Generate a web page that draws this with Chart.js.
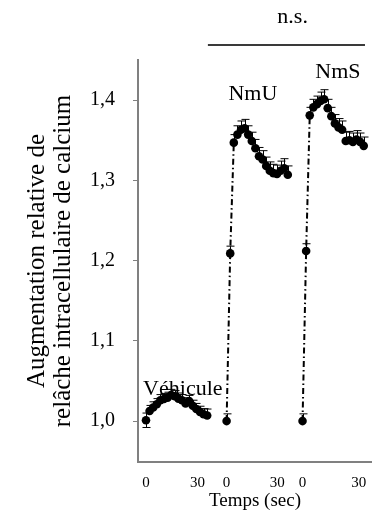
<!DOCTYPE html>
<html><head><meta charset="utf-8">
<script src="https://cdn.jsdelivr.net/npm/chart.js@4/dist/chart.umd.min.js"></script>
<style>html,body{margin:0;padding:0;background:#fff;overflow:hidden}#wrap{width:372px;height:516px;position:relative}canvas{display:block}</style>
</head><body><div id="wrap"><canvas id="c"></canvas></div>
<script>
// ---- data ----
const times = [0,2,4,6,8,10,12,14,16,18,20,22,24,26,28,30,32,34];
const seriesNames = ['Véhicule','NmU','NmS'];
const vehicule = [1.001,1.0125,1.017,1.021,1.026,1.0275,1.029,1.0325,1.031,1.028,1.026,1.022,1.025,1.019,1.015,1.0115,1.0085,1.007];
const nmu = [1.000,1.209,1.347,1.357,1.363,1.365,1.357,1.349,1.340,1.330,1.326,1.318,1.312,1.309,1.308,1.312,1.315,1.307];
const nms = [1.000,1.212,1.381,1.391,1.395,1.399,1.401,1.390,1.380,1.371,1.366,1.363,1.349,1.350,1.348,1.351,1.348,1.343];
const errUpVehicule = [0.009,0.007,0.007,0.007,0.007,0.007,0.007,0.007,0.007,0.007,0.007,0.007,0.007,0.007,0.007,0.007,0.007,0.008];
const errDownVehicule = [0.009,0,0,0,0,0,0,0,0,0,0,0,0,0,0,0,0,0];
const errUpNmu = [0.009,0.009,0.010,0.011,0.011,0.011,0.011,0.011,0.011,0.011,0.011,0.011,0.011,0.011,0.011,0.012,0.012,0.011];
const errUpNms = [0.009,0.009,0.010,0.010,0.010,0.011,0.012,0.011,0.011,0.011,0.011,0.011,0.011,0.011,0.011,0.011,0.011,0.011];
const zeros = [0,0,0,0,0,0,0,0,0,0,0,0,0,0,0,0,0,0];
const segmentOffsets = [0, 44.8, 87];
const xTickValues = [0,28.6,44.8,73,87,118.3];
const xTickLabels = ['0','30','0','30','0','30'];
const yTickValues = [1.0,1.1,1.2,1.3,1.4];

const SERIF = '"Liberation Serif","Times New Roman",serif';
const toPts = (vals, off) => vals.map((v,i)=>({x: times[i]+off, y: v}));

const datasets = [
  {label:'NmU link', data: toPts(nmu, segmentOffsets[1]).slice(0,3), showLine:true, pointRadius:0, borderColor:'#000', borderWidth:2, borderDash:[6,3,1.5,3]},
  {label:'NmS link', data: toPts(nms, segmentOffsets[2]).slice(0,3), showLine:true, pointRadius:0, borderColor:'#000', borderWidth:2, borderDash:[6,3,1.5,3]},
  {label:seriesNames[0], data: toPts(vehicule, segmentOffsets[0]), errUp: errUpVehicule, errDown: errDownVehicule},
  {label:seriesNames[1], data: toPts(nmu, segmentOffsets[1]), errUp: errUpNmu, errDown: zeros},
  {label:seriesNames[2], data: toPts(nms, segmentOffsets[2]), errUp: errUpNms, errDown: zeros}
];
datasets.slice(2).forEach(d=>{Object.assign(d,{showLine:false,pointRadius:4.3,pointHoverRadius:4.3,backgroundColor:'#000',borderColor:'#000',borderWidth:0});});

const errorBars = {
  id:'errorBars',
  beforeDatasetsDraw(chart){
    const {ctx, scales:{x,y}} = chart;
    ctx.save(); ctx.strokeStyle='#000'; ctx.lineWidth=1;
    chart.data.datasets.forEach(ds=>{
      if(!ds.errUp) return;
      ds.data.forEach((p,j)=>{
        const px = Math.round(x.getPixelForValue(p.x))+0.5;
        const t = y.getPixelForValue(p.y+ds.errUp[j]);
        const b = y.getPixelForValue(p.y-ds.errDown[j]);
        const c = y.getPixelForValue(p.y);
        ctx.beginPath();
        ctx.moveTo(px,c); ctx.lineTo(px,t);
        ctx.moveTo(px-4,t); ctx.lineTo(px+4,t);
        if(ds.errDown[j]>0){ctx.moveTo(px,c); ctx.lineTo(px,b); ctx.moveTo(px-4,b); ctx.lineTo(px+4,b);}
        ctx.stroke();
      });
    });
    ctx.restore();
  }
};

const annotations = {
  id:'annotations',
  afterDraw(chart){
    const {ctx, scales:{x,y}} = chart;
    ctx.save();
    ctx.fillStyle='#000';
    ctx.font='22px '+SERIF;
    ctx.textBaseline='alphabetic';
    ctx.textAlign='left';
    ctx.fillText(seriesNames[0], x.getPixelForValue(-1.6), y.getPixelForValue(1.0324));
    ctx.textAlign='center';
    ctx.fillText(seriesNames[1], x.getPixelForValue(59.4), y.getPixelForValue(1.400));
    ctx.fillText(seriesNames[2], x.getPixelForValue(106.7), y.getPixelForValue(1.4274));
    ctx.fillText('n.s.', x.getPixelForValue(81.5), y.getPixelForValue(1.496));
    ctx.strokeStyle='#3a3a3a'; ctx.lineWidth=2;
    const by = Math.round(y.getPixelForValue(1.4685));
    ctx.beginPath(); ctx.moveTo(x.getPixelForValue(34.4), by); ctx.lineTo(x.getPixelForValue(121.7), by); ctx.stroke();
    ctx.restore();
  }
};

new Chart(document.getElementById('c'), {
  type:'scatter',
  data:{datasets},
  options:{
    responsive:true, maintainAspectRatio:false, animation:false, devicePixelRatio:1,
    layout:{autoPadding:false, padding:{top:60,right:0,bottom:0,left:0}},
    plugins:{legend:{display:false}, tooltip:{enabled:false}},
    scales:{
      x:{
        type:'linear', min:-4.44, max:125.6,
        afterBuildTicks: s => { s.ticks = xTickValues.map(v=>({value:v})); },
        afterFit: s => { s.height = 54; s.paddingLeft = 0; s.paddingRight = 0; },
        ticks:{callback:(v,i)=>xTickLabels[i], font:{family:SERIF,size:15}, color:'#000', padding:12, maxRotation:0, autoSkip:false},
        grid:{display:false, drawTicks:false},
        border:{display:true, color:'#808080', width:2},
        title:{display:true, text:'Temps (sec)', font:{family:SERIF,size:19}, color:'#000', padding:{top:0,bottom:4}}
      },
      y:{
        type:'linear', min:0.949, max:1.45,
        afterBuildTicks: s => { s.ticks = yTickValues.map(v=>({value:v})); },
        afterFit: s => { s.width = 138; s.paddingTop = 0; s.paddingBottom = 0; },
        ticks:{callback:v=>v.toFixed(1).replace('.',','), font:{family:SERIF,size:20}, color:'#000', padding:18},
        grid:{display:true, drawOnChartArea:false, drawTicks:true, tickLength:5, color:'#808080', tickColor:'#808080'},
        border:{display:true, color:'#808080', width:2},
        title:{display:true, text:['Augmentation relative de','relâche intracellulaire de calcium'], font:{family:SERIF,size:25, lineHeight:1.04}, color:'#000', padding:{top:24,bottom:0}}
      }
    }
  },
  plugins:[errorBars, annotations]
});
</script></body></html>
